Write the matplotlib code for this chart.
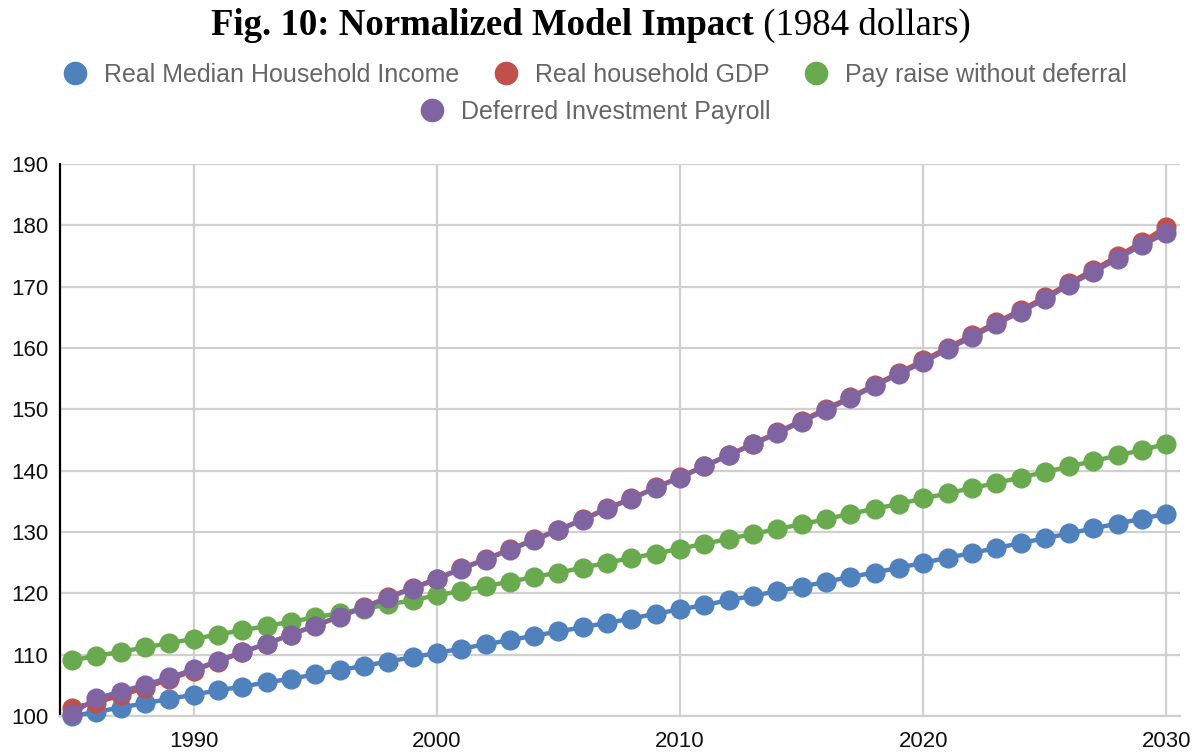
import numpy as np
import matplotlib.pyplot as plt
from matplotlib.lines import Line2D

years = list(range(1985, 2031))

median_income = [100.0, 100.7, 101.4, 102.1, 102.8, 103.5, 104.2, 104.8, 105.5, 106.1,
                 106.8, 107.5, 108.2, 108.9, 109.6, 110.3, 111.0, 111.7, 112.4, 113.1,
                 113.8, 114.5, 115.2, 115.9, 116.7, 117.4, 118.1, 118.9, 119.6, 120.4,
                 121.1, 121.9, 122.7, 123.4, 124.2, 125.0, 125.8, 126.6, 127.4, 128.2,
                 129.0, 129.8, 130.6, 131.4, 132.2, 133.0]

household_gdp = [101.4, 102.2, 103.4, 104.6, 106.0, 107.4, 108.9, 110.4, 111.8, 113.3,
                 114.8, 116.3, 117.8, 119.4, 120.9, 122.4, 124.1, 125.6, 127.2, 128.8,
                 130.4, 132.1, 133.9, 135.5, 137.3, 139.0, 140.8, 142.6, 144.4, 146.3,
                 148.2, 150.1, 152.0, 154.0, 156.0, 158.0, 160.1, 162.1, 164.2, 166.2,
                 168.3, 170.6, 172.8, 175.0, 177.3, 179.8]

pay_raise = [109.1, 109.8, 110.5, 111.2, 111.9, 112.6, 113.3, 114.0, 114.7, 115.4,
             116.1, 116.8, 117.5, 118.2, 118.9, 119.7, 120.4, 121.2, 121.9, 122.7,
             123.4, 124.2, 125.0, 125.8, 126.5, 127.3, 128.1, 128.9, 129.7, 130.5,
             131.3, 132.1, 133.0, 133.8, 134.6, 135.5, 136.3, 137.2, 138.0, 138.9,
             139.8, 140.7, 141.6, 142.5, 143.4, 144.4]

deferred_payroll = [100.4, 102.9, 104.0, 105.1, 106.3, 107.6, 109.0, 110.5, 111.8, 113.3,
                    114.7, 116.2, 117.7, 119.3, 120.8, 122.3, 124.0, 125.5, 127.1, 128.7,
                    130.3, 132.0, 133.8, 135.4, 137.2, 138.9, 140.7, 142.5, 144.3, 146.1,
                    148.0, 149.9, 151.8, 153.8, 155.8, 157.7, 159.8, 161.8, 163.9, 165.9,
                    168.0, 170.3, 172.4, 174.6, 176.8, 178.8]

labels = ['Real Median Household Income', 'Real household GDP',
          'Pay raise without deferral', 'Deferred Investment Payroll']
colors = ['#4F81BD', '#C0504D', '#6AAA4F', '#8064A2']
series = [median_income, household_gdp, pay_raise, deferred_payroll]

fig = plt.figure(figsize=(11.99, 7.53), dpi=100)
ax = fig.add_axes([0.05, 0.049, 0.934, 0.733])

for vals, c, lab in zip(series, colors, labels):
    ax.plot(years, vals, color=c, lw=3.2, marker='o', markersize=13.5,
            label=lab, clip_on=False, zorder=3)

ax.set_xlim(1984.5, 2030.55)
ax.set_ylim(100, 190)
ax.set_xticks([1990, 2000, 2010, 2020, 2030])
ax.set_yticks(np.arange(100, 191, 10))
ax.grid(True, color='#d0d0d0', lw=1.6, zorder=0)
ax.set_axisbelow(True)
for s in ['top', 'right']:
    ax.spines[s].set_visible(False)
ax.spines['bottom'].set_color('#d0d0d0')
ax.spines['bottom'].set_linewidth(1.6)
ax.spines['left'].set_color('black')
ax.spines['left'].set_linewidth(1.6)
ax.tick_params(length=0, labelsize=16)
ax.tick_params(axis='y', pad=8.5)
ax.tick_params(axis='x', pad=11)
for t in ax.get_xticklabels() + ax.get_yticklabels():
    t.set_fontfamily('Liberation Sans')
    t.set_color('#111111')

# title: bold part + regular part, centred together
t1 = fig.text(0, 0.966, 'Fig. 10: Normalized Model Impact', ha='left', va='center',
              fontsize=26.5, fontweight='bold', family='Liberation Serif')
t2 = fig.text(0, 0.966, ' (1984 dollars)', ha='left', va='center',
              fontsize=26.5, family='Liberation Serif')
r = fig.canvas.get_renderer()
w1 = t1.get_window_extent(r).width
w2 = t2.get_window_extent(r).width
x0 = 591 - (w1 + w2) / 2
t1.set_x(x0 / 1199)
t2.set_x((x0 + w1) / 1199)

handles = [Line2D([], [], color=c, marker='o', ls='none', markersize=16) for c in colors]
legprop = {'family': 'Liberation Sans', 'size': 18}
fig.legend(handles[:3], labels[:3], loc='center', bbox_to_anchor=(0.496, 0.901),
           ncol=3, frameon=False, handlelength=1.0, handletextpad=0.65,
           columnspacing=1.38, prop=legprop, labelcolor='#666666')
fig.legend(handles[3:], labels[3:], loc='center', bbox_to_anchor=(0.496, 0.851),
           frameon=False, handlelength=1.0, handletextpad=0.65,
           prop=legprop, labelcolor='#666666')

fig.savefig('out.png', dpi=100)
